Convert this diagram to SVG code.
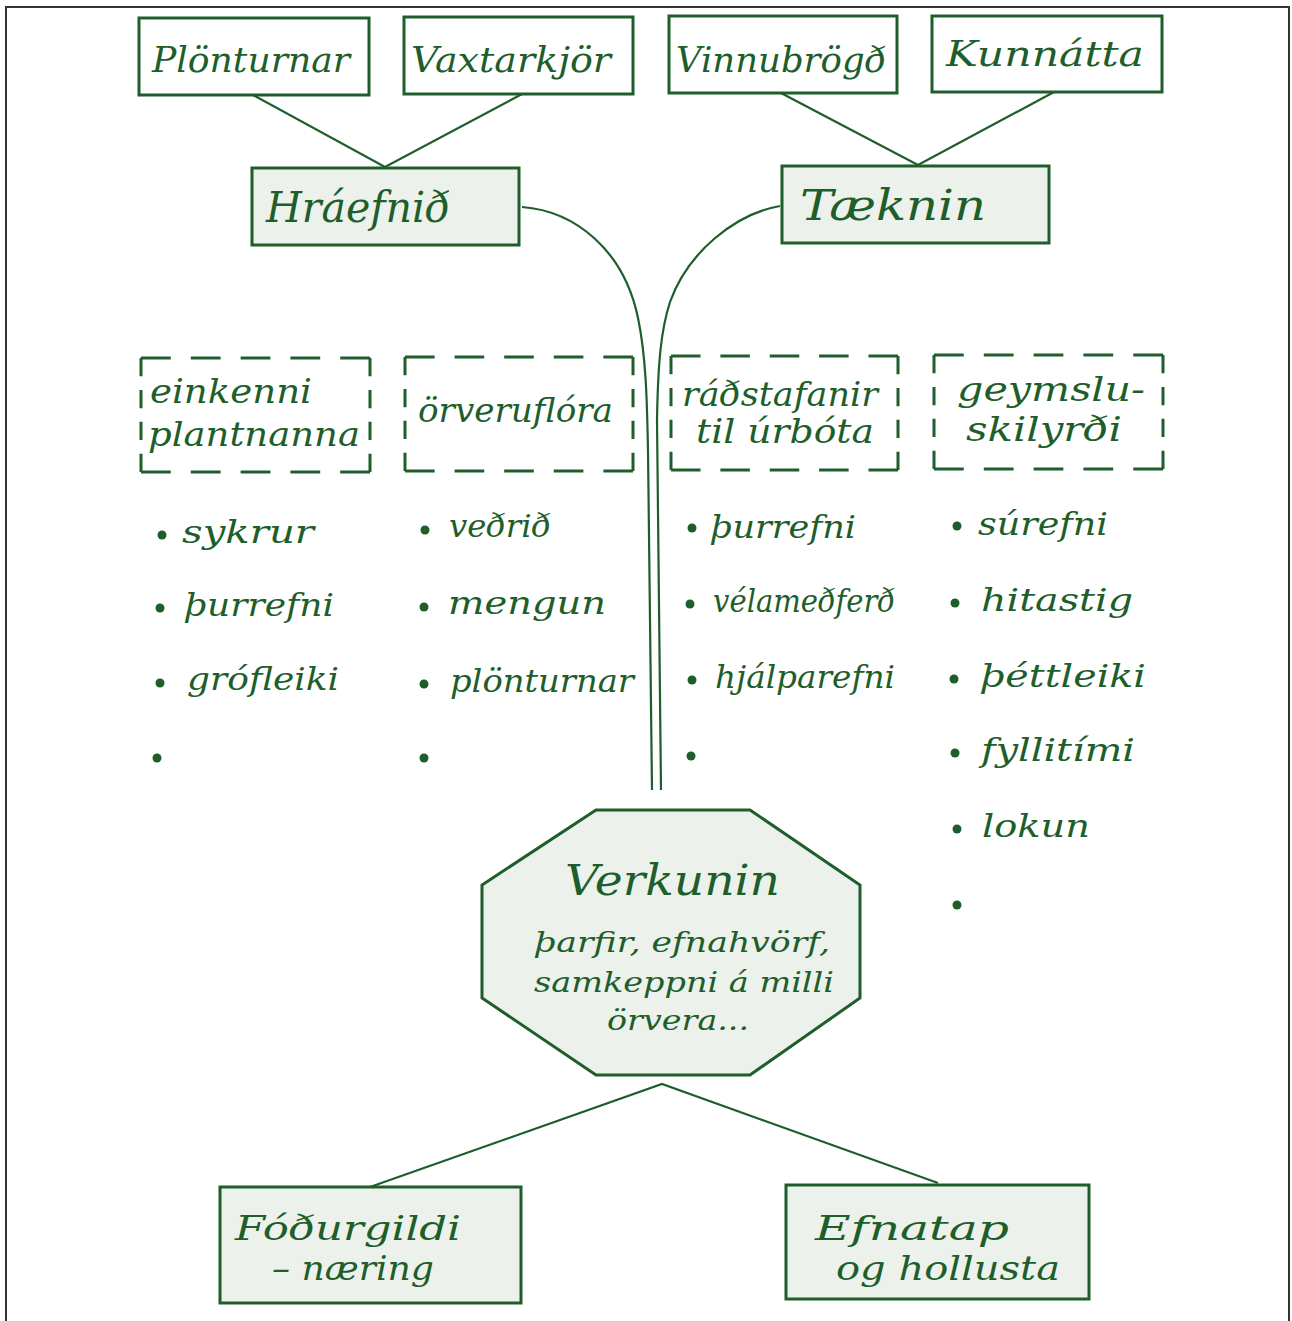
<svg xmlns="http://www.w3.org/2000/svg" width="1292" height="1321" viewBox="0 0 1292 1321">
  <style>
    .box { fill: #ffffff; stroke: #1d5e2a; stroke-width: 3; }
    .shaded { fill: #edf1ec; stroke: #1d5e2a; stroke-width: 3; }
    .dash { fill: none; stroke: #1d5e2a; stroke-width: 3; }
    .link { fill: none; stroke: #1d5e2a; stroke-width: 2.2; }
    .dot { fill: #1d5e2a; }
    text { font-family: "DejaVu Serif", "Liberation Serif", serif; font-style: italic; fill: #1d5e2a; }
    .t1 { font-size: 36px; }
    .t2 { font-size: 42px; }
    .t3 { font-size: 33px; }
    .t4 { font-size: 31px; }
    .t5 { font-size: 28px; }
  </style>

  <!-- page frame -->
  <path d="M6,1321 V7 H1289 V1321" fill="none" stroke="#333333" stroke-width="2"/>

  <!-- connectors -->
  <g id="connectors">
    <path class="link" d="M253,95 L385,167 L522,94"/>
    <path class="link" d="M781,93 L918,165 L1054,92"/>
    <path class="link" d="M522,207 C575,211 624,250 638,318 C646,356 647,400 648,450 L652,790"/>
    <path class="link" d="M780,206 C735,214 688,252 670,302 C661,330 658,362 657,420 L661,790"/>
    <path class="link" d="M370,1187 L662,1084 L938,1183"/>
  </g>

  <!-- top row -->
  <g id="plonturnar">
    <rect class="box" x="139" y="18" width="230" height="77"/>
    <text class="t1" x="152" y="72" textLength="198" lengthAdjust="spacingAndGlyphs">Plönturnar</text>
  </g>
  <g id="vaxtarkjor">
    <rect class="box" x="404" y="17" width="229" height="77"/>
    <text class="t1" x="411" y="72" textLength="200" lengthAdjust="spacingAndGlyphs">Vaxtarkjör</text>
  </g>
  <g id="vinnubrogd">
    <rect class="box" x="669" y="16" width="228" height="77"/>
    <text class="t1" x="676" y="72" textLength="210" lengthAdjust="spacingAndGlyphs">Vinnubrögð</text>
  </g>
  <g id="kunnatta">
    <rect class="box" x="932" y="16" width="230" height="76"/>
    <text class="t1" x="946" y="66" textLength="198" lengthAdjust="spacingAndGlyphs">Kunnátta</text>
  </g>

  <!-- second row -->
  <g id="hraefnid">
    <rect class="shaded" x="252" y="168" width="267" height="77"/>
    <text class="t2" x="266" y="222" textLength="184" lengthAdjust="spacingAndGlyphs">Hráefnið</text>
  </g>
  <g id="taeknin">
    <rect class="shaded" x="782" y="166" width="267" height="77"/>
    <text class="t2" x="800" y="220" textLength="186" lengthAdjust="spacingAndGlyphs">Tæknin</text>
  </g>

  <!-- dashed category boxes -->
  <g id="einkenni">
    <line class="dash" x1="141" y1="358" x2="370" y2="358" pathLength="100" stroke-dasharray="13 8.75"/>
    <line class="dash" x1="141" y1="472" x2="370" y2="472" pathLength="100" stroke-dasharray="13 8.75"/>
    <line class="dash" x1="141" y1="358" x2="141" y2="472" pathLength="100" stroke-dasharray="16 12"/>
    <line class="dash" x1="370" y1="358" x2="370" y2="472" pathLength="100" stroke-dasharray="16 12"/>
    <text class="t3" x="150" y="403" textLength="162" lengthAdjust="spacingAndGlyphs">einkenni</text>
    <text class="t3" x="148" y="446" textLength="212" lengthAdjust="spacingAndGlyphs">plantnanna</text>
  </g>
  <g id="orveruflora">
    <line class="dash" x1="405" y1="357" x2="633" y2="357" pathLength="100" stroke-dasharray="13 8.75"/>
    <line class="dash" x1="405" y1="471" x2="633" y2="471" pathLength="100" stroke-dasharray="13 8.75"/>
    <line class="dash" x1="405" y1="357" x2="405" y2="471" pathLength="100" stroke-dasharray="16 12"/>
    <line class="dash" x1="633" y1="357" x2="633" y2="471" pathLength="100" stroke-dasharray="16 12"/>
    <text class="t3" x="418" y="422" textLength="195" lengthAdjust="spacingAndGlyphs">örveruflóra</text>
  </g>
  <g id="radstafanir">
    <line class="dash" x1="671" y1="356" x2="898" y2="356" pathLength="100" stroke-dasharray="13 8.75"/>
    <line class="dash" x1="671" y1="470" x2="898" y2="470" pathLength="100" stroke-dasharray="13 8.75"/>
    <line class="dash" x1="671" y1="356" x2="671" y2="470" pathLength="100" stroke-dasharray="16 12"/>
    <line class="dash" x1="898" y1="356" x2="898" y2="470" pathLength="100" stroke-dasharray="16 12"/>
    <text class="t3" x="682" y="406" textLength="196" lengthAdjust="spacingAndGlyphs">ráðstafanir</text>
    <text class="t3" x="696" y="443" textLength="178" lengthAdjust="spacingAndGlyphs">til úrbóta</text>
  </g>
  <g id="geymsluskilyrdi">
    <line class="dash" x1="934" y1="355" x2="1163" y2="355" pathLength="100" stroke-dasharray="13 8.75"/>
    <line class="dash" x1="934" y1="469" x2="1163" y2="469" pathLength="100" stroke-dasharray="13 8.75"/>
    <line class="dash" x1="934" y1="355" x2="934" y2="469" pathLength="100" stroke-dasharray="16 12"/>
    <line class="dash" x1="1163" y1="355" x2="1163" y2="469" pathLength="100" stroke-dasharray="16 12"/>
    <text class="t3" x="957" y="401" textLength="188" lengthAdjust="spacingAndGlyphs">geymslu-</text>
    <text class="t3" x="966" y="441" textLength="156" lengthAdjust="spacingAndGlyphs">skilyrði</text>
  </g>

  <!-- bullet lists -->
  <g id="list-einkenni">
    <circle class="dot" cx="162" cy="535" r="4.5"/>
    <text class="t4" x="182" y="543" textLength="132" lengthAdjust="spacingAndGlyphs">sykrur</text>
    <circle class="dot" cx="160" cy="608" r="4.5"/>
    <text class="t4" x="184" y="616" textLength="150" lengthAdjust="spacingAndGlyphs">þurrefni</text>
    <circle class="dot" cx="160" cy="683" r="4.5"/>
    <text class="t4" x="187" y="690" textLength="152" lengthAdjust="spacingAndGlyphs">grófleiki</text>
    <circle class="dot" cx="157" cy="758" r="4.5"/>
  </g>
  <g id="list-orveruflora">
    <circle class="dot" cx="425" cy="530" r="4.5"/>
    <text class="t4" x="449" y="537" textLength="102" lengthAdjust="spacingAndGlyphs">veðrið</text>
    <circle class="dot" cx="424" cy="607" r="4.5"/>
    <text class="t4" x="448" y="614" textLength="158" lengthAdjust="spacingAndGlyphs">mengun</text>
    <circle class="dot" cx="424" cy="684" r="4.5"/>
    <text class="t4" x="450" y="692" textLength="184" lengthAdjust="spacingAndGlyphs">plönturnar</text>
    <circle class="dot" cx="424" cy="758" r="4.5"/>
  </g>
  <g id="list-radstafanir">
    <circle class="dot" cx="692" cy="528" r="4.5"/>
    <text class="t4" x="710" y="538" textLength="146" lengthAdjust="spacingAndGlyphs">þurrefni</text>
    <circle class="dot" cx="690" cy="604" r="4.5"/>
    <text class="t4" x="713" y="612" textLength="182" lengthAdjust="spacingAndGlyphs">vélameðferð</text>
    <circle class="dot" cx="692" cy="680" r="4.5"/>
    <text class="t4" x="715" y="688" textLength="180" lengthAdjust="spacingAndGlyphs">hjálparefni</text>
    <circle class="dot" cx="691" cy="756" r="4.5"/>
  </g>
  <g id="list-geymsluskilyrdi">
    <circle class="dot" cx="957" cy="526" r="4.5"/>
    <text class="t4" x="978" y="535" textLength="130" lengthAdjust="spacingAndGlyphs">súrefni</text>
    <circle class="dot" cx="955" cy="603" r="4.5"/>
    <text class="t4" x="981" y="611" textLength="152" lengthAdjust="spacingAndGlyphs">hitastig</text>
    <circle class="dot" cx="954" cy="679" r="4.5"/>
    <text class="t4" x="980" y="687" textLength="166" lengthAdjust="spacingAndGlyphs">þéttleiki</text>
    <circle class="dot" cx="955" cy="753" r="4.5"/>
    <text class="t4" x="981" y="761" textLength="154" lengthAdjust="spacingAndGlyphs">fyllitími</text>
    <circle class="dot" cx="957" cy="829" r="4.5"/>
    <text class="t4" x="982" y="837" textLength="108" lengthAdjust="spacingAndGlyphs">lokun</text>
    <circle class="dot" cx="957" cy="905" r="4.5"/>
  </g>

  <!-- central process -->
  <g id="verkunin">
    <polygon class="shaded" points="596,810 750,810 860,885 860,998 750,1075 596,1075 482,998 482,885"/>
    <text class="t2" x="565" y="895" textLength="215" lengthAdjust="spacingAndGlyphs">Verkunin</text>
    <text class="t5" x="534" y="952" textLength="296" lengthAdjust="spacingAndGlyphs">þarfir, efnahvörf,</text>
    <text class="t5" x="534" y="992" textLength="300" lengthAdjust="spacingAndGlyphs">samkeppni á milli</text>
    <text class="t5" x="607" y="1030" textLength="142" lengthAdjust="spacingAndGlyphs">örvera...</text>
  </g>

  <!-- results -->
  <g id="fodurgildi">
    <rect class="shaded" x="220" y="1187" width="301" height="116"/>
    <text class="t3" x="235" y="1240" textLength="226" lengthAdjust="spacingAndGlyphs">Fóðurgildi</text>
    <text class="t3" x="272" y="1280" textLength="162" lengthAdjust="spacingAndGlyphs">– næring</text>
  </g>
  <g id="efnatap">
    <rect class="shaded" x="786" y="1185" width="303" height="114"/>
    <text class="t3" x="815" y="1240" textLength="194" lengthAdjust="spacingAndGlyphs">Efnatap</text>
    <text class="t3" x="836" y="1280" textLength="224" lengthAdjust="spacingAndGlyphs">og hollusta</text>
  </g>
</svg>
